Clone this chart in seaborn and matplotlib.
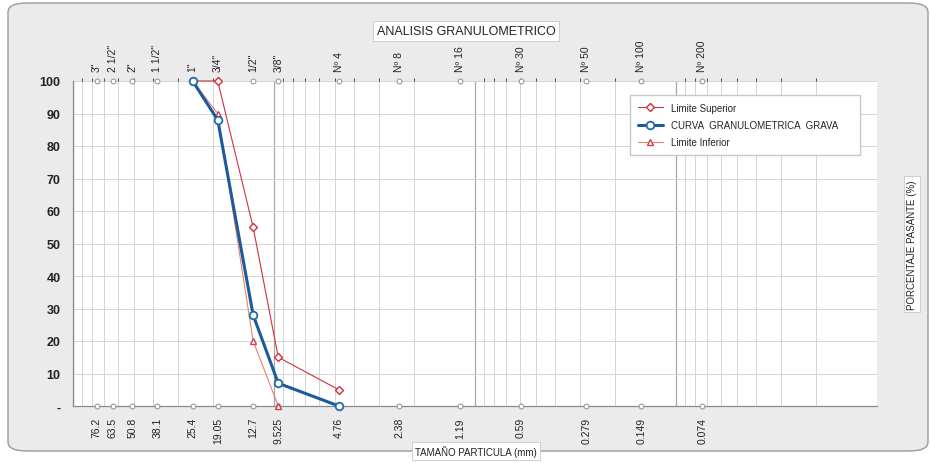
import numpy as np
import pandas as pd
import matplotlib
matplotlib.use("Agg")
import matplotlib.pyplot as plt
from matplotlib.patches import FancyBboxPatch
import seaborn as sns

# ---------------- data ----------------
sieve_mm = [76.2, 63.5, 50.8, 38.1, 25.4, 19.05, 12.7, 9.525, 4.76, 2.38, 1.19, 0.59, 0.279, 0.149, 0.074]
sieve_mm_labels = ["76.2", "63.5", "50.8", "38.1", "25.4", "19.05", "12.7", "9.525", "4.76",
                   "2.38", "1.19", "0.59", "0.279", "0.149", "0.074"]
sieve_names = ['3"', '2 1/2"', '2"', '1 1/2"', '1"', '3/4"', '1/2"', '3/8"', 'Nº 4',
               'Nº 8', 'Nº 16', 'Nº 30', 'Nº 50', 'Nº 100', 'Nº 200']

sup_x = [25.4, 19.05, 12.7, 9.525, 4.76]
sup_y = [100, 100, 55, 15, 5]

curve_x = [25.4, 19.05, 12.7, 9.525, 4.76]
curve_y = [100, 88, 28, 7, 0]

inf_x = [25.4, 19.05, 12.7, 9.525]
inf_y = [100, 90, 20, 0]

y_ticks = [0, 10, 20, 30, 40, 50, 60, 70, 80, 90, 100]
y_tick_labels = ["-", "10", "20", "30", "40", "50", "60", "70", "80", "90", "100"]

# ---------------- style ----------------
sns.set_style("white")
plt.rcParams['font.family'] = ['Liberation Sans', 'DejaVu Sans']

W, H = 930, 464
fig = plt.figure(figsize=(W / 100, H / 100), dpi=100, facecolor="white")

# scanned-looking rounded panel
panel = FancyBboxPatch((8 / W, 12 / H), (920 / W), (448 / H),
                       boxstyle="round,pad=0,rounding_size=0.02",
                       transform=fig.transFigure, facecolor="#ebebeb",
                       edgecolor="#9a9a9a", linewidth=1.0, zorder=-10)
fig.patches.append(panel)

ax = fig.add_axes([73 / W, 1 - 407 / H, (877 - 73) / W, (407 - 82) / H])
ax.set_facecolor("white")
ax.set_xscale("log")
ax.set_xlim(100, 0.01)
ax.set_ylim(0, 100)

# gridlines (log grid)
for dec in [10.0, 1.0, 0.1, 0.01]:
    for s in range(2, 10):
        ax.axvline(dec * s, color="#d4d4d4", lw=0.7, zorder=0)
    ax.axvline(dec * 10, color="#a8a8a8", lw=0.9, zorder=0)
for yv in y_ticks[1:]:
    ax.axhline(yv, color="#d4d4d4", lw=0.7, zorder=0)

# sieve markers top and bottom
marks = pd.DataFrame({"x": sieve_mm + sieve_mm, "y": [100] * len(sieve_mm) + [0] * len(sieve_mm)})
sns.scatterplot(data=marks, x="x", y="y", ax=ax, marker="o", s=12,
                facecolor="white", edgecolor="#9a9a9a", linewidth=0.8,
                clip_on=False, zorder=4, legend=False)

df_sup = pd.DataFrame({"x": sup_x, "y": sup_y})
df_cur = pd.DataFrame({"x": curve_x, "y": curve_y})
df_inf = pd.DataFrame({"x": inf_x, "y": inf_y})

sns.lineplot(data=df_sup, x="x", y="y", ax=ax, sort=False, color="#d0303c", lw=0.8,
             marker="D", markersize=3.6, markerfacecolor="white", markeredgecolor="#d0303c",
             markeredgewidth=1.0, label="Limite Superior", clip_on=False, zorder=5)
sns.lineplot(data=df_cur, x="x", y="y", ax=ax, sort=False, color="#1c5a9c", lw=2.2,
             marker="o", markersize=5.5, markerfacecolor="white", markeredgecolor="#1f6cae",
             markeredgewidth=1.3, label="CURVA  GRANULOMETRICA  GRAVA", clip_on=False, zorder=6)
sns.lineplot(data=df_inf, x="x", y="y", ax=ax, sort=False, color="#e8806e", lw=0.8,
             marker="^", markersize=4.2, markerfacecolor="white", markeredgecolor="#d0404a",
             markeredgewidth=1.0, label="Limite Inferior", clip_on=False, zorder=5)

# axes spines
for sp in ["top", "right"]:
    ax.spines[sp].set_visible(False)
ax.spines["left"].set_color("#8a8a8a")
ax.spines["bottom"].set_color("#8a8a8a")
ax.spines["left"].set_linewidth(0.9)
ax.spines["bottom"].set_linewidth(0.9)

# bottom ticks: sieve sizes in mm
ax.set_xticks(sieve_mm)
ax.set_xticklabels(sieve_mm_labels, rotation=90, fontsize=7.5, color="#222222")
ax.xaxis.set_minor_locator(matplotlib.ticker.NullLocator())
ax.tick_params(axis="x", length=0, pad=8)

ax.set_yticks(y_ticks)
ax.set_yticklabels(y_tick_labels, fontsize=9, fontweight="bold", color="#222222")
ax.tick_params(axis="y", length=4, color="#8a8a8a", pad=5)

# top ticks: sieve names
sec = ax.secondary_xaxis("top")
sec.set_xticks(sieve_mm)
sec.set_xticklabels(sieve_names, rotation=90, fontsize=7.5, color="#222222")
sec.tick_params(length=0, pad=7)
sec.spines["top"].set_visible(False)

ax.set_xlabel("")
ax.set_ylabel("")

leg = ax.legend(loc="upper left",
                bbox_to_anchor=((630 - 73) / 804, 1 - (96 - 82) / 325, (860 - 630) / 804, 0),
                mode="expand", fontsize=7, frameon=True, fancybox=False,
                edgecolor="#c8c8c8", framealpha=1, handlelength=2.6,
                borderpad=0.8, labelspacing=0.75, borderaxespad=0)

bbox_kw = dict(boxstyle="square,pad=0.3", facecolor="white", edgecolor="#c8c8c8", linewidth=0.6)
fig.text(466 / W, 1 - 32 / H, "ANALISIS GRANULOMETRICO", ha="center", va="center",
         fontsize=9, color="#222222", bbox=bbox_kw)
fig.text(476 / W, 1 - 452 / H, "TAMAÑO PARTICULA (mm)", ha="center", va="center",
         fontsize=7, color="#222222", bbox=bbox_kw)
fig.text(912 / W, 1 - 245 / H, "PORCENTAJE PASANTE (%)", ha="center", va="center",
         rotation=90, fontsize=7, color="#222222", bbox=bbox_kw)

fig.savefig("out.png", dpi=100, facecolor=fig.get_facecolor())
